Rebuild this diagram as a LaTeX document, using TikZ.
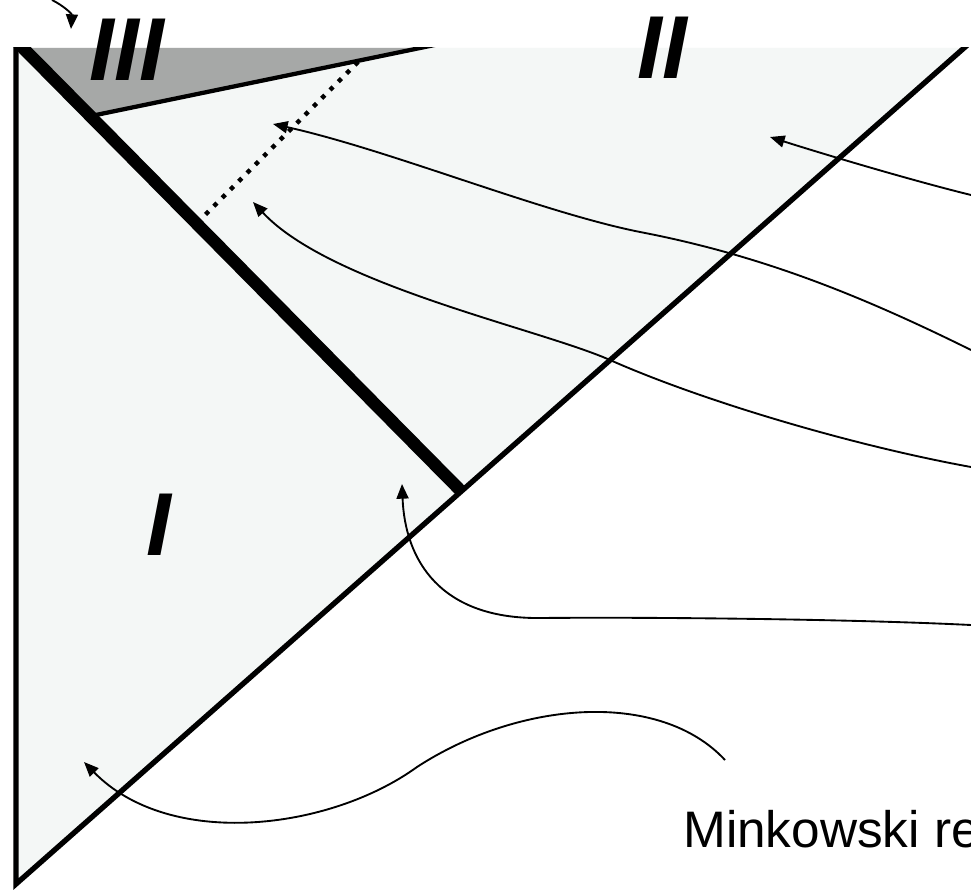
\documentclass[tikz,border=0pt]{standalone}
\usepackage{fontspec}
\newfontfamily\hv{Liberation Sans}
\usetikzlibrary{arrows.meta,calc}
\definecolor{regionfill}{HTML}{F4F7F6}
\definecolor{regionIII}{HTML}{A6A8A7}
\begin{document}
\begin{tikzpicture}[x=0.75pt,y=-0.75pt,
  conn/.style={line width=1.4pt,-{Triangle[length=11pt,width=9pt]}},
  roman/.style={font=\hv\bfseries\itshape\fontsize{67}{67}\selectfont, inner sep=0pt, anchor=base},
  outline/.style={line width=4pt, miter limit=20},
  horizon/.style={line width=9.3pt, line cap=rect},
  bound/.style={line width=3.2pt},
  dots/.style={line width=3.3pt, dash pattern=on 3.3pt off 5.5pt}]
\useasboundingbox (0,0) rectangle (971,892);
\clip (0,0) rectangle (971,892);
\fill[white] (0,0) rectangle (971,892);
% regions
\coordinate (tl) at (16,48);
\coordinate (bl) at (16,884);
\coordinate (tr) at (964,48);
\coordinate (hs) at (25,50);
\coordinate (he) at (457,487);
\coordinate (g1) at (23,48);
\coordinate (g2) at (420,48);
\coordinate (g3) at (91,116);
\fill[regionfill] (tl) -- (tr) -- (bl) -- cycle;
\fill[regionIII] (g1) -- (g2) -- (g3) -- cycle;
\begin{scope}
  \clip (13,48) rectangle (971,892);
  \draw[outline] (16,30) -- (bl) -- ($(bl)!1.03!(tr)$);
  \draw[bound] (g3) -- ($(g3)!1.05!(g2)$);
  \draw[dots] (358,62) -- (205,215);
  \draw[horizon] ($(he)!1.03!(hs)$) -- (he);
\end{scope}
% labels
\node[roman] (lIII) at (127,81) {III};
\node[roman] (lII) at (662,79) {II};
\node[roman] (lI) at (159,555) {I};
\node[font=\hv\fontsize{38.5}{38.5}\selectfont, inner sep=0pt, anchor=base west] (mink) at (683,847) {Minkowski re};
% connectors
\coordinate (a0s) at (52,0);   \coordinate (a0t) at (71,29);
\coordinate (a1s) at (971,195); \coordinate (a1t) at (770,137);
\coordinate (a2s) at (971,350); \coordinate (a2t) at (273,124);
\coordinate (a3s) at (971,467); \coordinate (a3t) at (253,202);
\coordinate (a4s) at (971,625); \coordinate (a4t) at (402,484);
\coordinate (a5s) at (725,760); \coordinate (a5t) at (84,762);
\draw[conn] (a0s) .. controls (64,6) and (72,14) .. (a0t);
\draw[conn] (a1s) .. controls (910,180) and (820,153) .. (a1t);
\draw[conn] (a2s) .. controls (860,295) and (760,255) .. (640,232) .. controls (540,212) and (390,150) .. (a2t);
\draw[conn] (a3s) .. controls (850,445) and (700,400) .. (610,360) .. controls (540,329) and (330,285) .. (a3t);
\draw[conn] (a4s) .. controls (850,619) and (650,617) .. (540,618) .. controls (440,619) and (405,560) .. (a4t);
\draw[conn] (a5s) .. controls (660,690) and (520,700) .. (417,767) .. controls (330,830) and (170,850) .. (a5t);
\end{tikzpicture}
\end{document}
